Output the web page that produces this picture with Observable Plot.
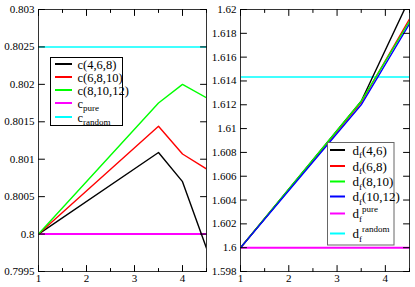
<!DOCTYPE html>
<html>
<head>
<meta charset="utf-8">
<script src="https://cdn.jsdelivr.net/npm/d3@7"></script>
<script src="https://cdn.jsdelivr.net/npm/@observablehq/plot@0.6"></script>
<style>
  html, body { margin: 0; padding: 0; background: white; }
  #wrap { position: relative; width: 415px; height: 287px; overflow: hidden; background: white; font-family: "Liberation Serif", serif; }
  #wrap > svg, #wrap > figure { position: absolute; top: 0; margin: 0; }
  #wrap svg, #wrap svg text { font-family: "Liberation Serif", serif !important; }
</style>
</head>
<body>
<div id="wrap"></div>
<script>
// ---------- data: left panel ----------
const xLeft = [1, 3.5, 4, 4.5];
const c468 = [0.8, 0.80109, 0.80070, 0.79981];
const c6810 = [0.8, 0.80144, 0.80107, 0.80087];
const c81012 = [0.8, 0.80175, 0.80200, 0.80182];
const cPure = 0.8;
const cRandom = 0.8025;
const leftYTicks = [0.7995, 0.8, 0.8005, 0.801, 0.8015, 0.802, 0.8025, 0.803];
const leftYLabels = ["0.7995", "0.8", "0.8005", "0.801", "0.8015", "0.802", "0.8025", "0.803"];

// ---------- data: right panel ----------
const xRight = [1, 3.5, 4.5];
const df46 = [1.6, 1.6123, 1.6209];
const df68 = [1.6, 1.6122, 1.6192];
const df810 = [1.6, 1.6123, 1.6190];
const df1012 = [1.6, 1.6120, 1.6188];
const dfPure = 1.6;
const dfRandom = 1.61434;
const rightYTicks = [1.598, 1.6, 1.602, 1.604, 1.606, 1.608, 1.61, 1.612, 1.614, 1.616, 1.618, 1.62];
const rightYLabels = ["1.598", "1.6", "1.602", "1.604", "1.606", "1.608", "1.61", "1.612", "1.614", "1.616", "1.618", "1.62"];

// ---------- shared ----------
const xMajor = [1, 2, 3, 4];
const xMajorLabels = ["1", "2", "3", "4"];
const xMinor = [1.5, 2.5, 3.5, 4.5];

const leftSeries = [
  {label: "c(4,6,8)", values: c468, color: "#000000"},
  {label: "c(6,8,10)", values: c6810, color: "#ff0000"},
  {label: "c(8,10,12)", values: c81012, color: "#00ff00"}
];
const leftRefs = [
  {label: "pure", value: cPure, color: "#ff00ff"},
  {label: "random", value: cRandom, color: "#00ffff"}
];
const rightSeries = [
  {label: "(4,6)", values: df46, color: "#000000"},
  {label: "(6,8)", values: df68, color: "#ff0000"},
  {label: "(8,10)", values: df810, color: "#00ff00"},
  {label: "(10,12)", values: df1012, color: "#0000ff"}
];
const rightRefs = [
  {label: "pure", value: dfPure, color: "#ff00ff"},
  {label: "random", value: dfRandom, color: "#00ffff"}
];

const FONT = '"Liberation Serif", serif';
const tickShape = {draw(context, l) { context.moveTo(0, 0); context.lineTo(0, -l); }};

function ticksFor(yTicks) {
  const v = (data, o) => Plot.vector(data, {shape: tickShape, anchor: "start", stroke: "black", strokeWidth: 1, ...o});
  return [
    v(xMajor, {x: d => d, frameAnchor: "bottom", rotate: 0, length: 6}),
    v(xMinor, {x: d => d, frameAnchor: "bottom", rotate: 0, length: 3}),
    v(xMajor, {x: d => d, frameAnchor: "top", rotate: 180, length: 6}),
    v(xMinor, {x: d => d, frameAnchor: "top", rotate: 180, length: 3}),
    v(yTicks, {y: d => d, frameAnchor: "left", rotate: 90, length: 6}),
    v(yTicks, {y: d => d, frameAnchor: "right", rotate: -90, length: 6})
  ];
}

function panel(xs, series, refs, yDomain, yTicks, yLabels, opts) {
  const lineData = series.flatMap(s => s.values.map((v, i) => ({x: xs[i], y: v, s: s.label, color: s.color})));
  return Plot.plot({
    width: opts.width, height: 287,
    marginLeft: opts.marginLeft, marginRight: opts.marginRight, marginTop: 9, marginBottom: 16,
    x: {domain: [1, 4.5]},
    y: {domain: yDomain},
    style: {fontFamily: FONT, fontSize: "11px", background: "white", color: "black", overflow: "visible"},
    marks: [
      ...refs.map(r => Plot.ruleY([r.value], {stroke: r.color, strokeWidth: r.label === "pure" ? 2 : 1.5})),
      ...series.map(s => Plot.line(lineData.filter(d => d.s === s.label), {x: "x", y: "y", stroke: s.color, strokeWidth: 1.4, clip: true})),
      Plot.frame({stroke: "#333", strokeWidth: 1}),
      ...ticksFor(yTicks),
      Plot.axisX({ticks: xMajor, tickSize: 0, tickPadding: 3, tickFormat: d => xMajorLabels[xMajor.indexOf(d)], label: null, fill: "black", fontFamily: FONT}),
      Plot.axisY({ticks: yTicks, tickSize: 0, tickPadding: 4, tickFormat: d => yLabels[yTicks.indexOf(d)], label: null, fill: "black", fontFamily: FONT})
    ]
  });
}

const wrap = document.getElementById("wrap");
const left = panel(xLeft, leftSeries, leftRefs, [0.7995, 0.803], leftYTicks, leftYLabels, {width: 208, marginLeft: 38, marginRight: 2});
left.style.left = "0px";
wrap.appendChild(left);
const right = panel(xRight, rightSeries, rightRefs, [1.598, 1.62], rightYTicks, rightYLabels, {width: 207, marginLeft: 32, marginRight: 6});
right.style.left = "208px";
wrap.appendChild(right);

// ---------- legends ----------
const ov = d3.select(wrap).append("svg")
  .attr("width", 415).attr("height", 287)
  .style("position", "absolute").style("left", "0px").style("top", "0px")
  .style("pointer-events", "none")
  .style("font-family", FONT);

// left legend
const L = ov.append("g");
L.append("rect").attr("x", 50.5).attr("y", 57.5).attr("width", 72).attr("height", 68)
  .attr("fill", "white").attr("stroke", "black").attr("stroke-width", 1);
const leftItems = [
  ...leftSeries.map(s => ({main: s.label, sub: null, color: s.color})),
  ...leftRefs.map(r => ({main: "c", sub: r.label, color: r.color}))
];
const leftRowY = [64, 77, 90, 103, 117];
leftItems.forEach((it, i) => {
  const y = leftRowY[i];
  L.append("line").attr("x1", 55).attr("x2", 72).attr("y1", y).attr("y2", y)
    .attr("stroke", it.color).attr("stroke-width", 2);
  const t = L.append("text").attr("x", 77.5).attr("y", y + 4.5).style("font-size", "12.5px").attr("fill", "black");
  t.append("tspan").text(it.main);
  if (it.sub) t.append("tspan").style("font-size", "9px").attr("dy", 3).text(it.sub);
});

// right legend
const R = ov.append("g");
R.append("rect").attr("x", 327.5).attr("y", 142.5).attr("width", 66.5).attr("height", 102.5)
  .attr("fill", "white").attr("stroke", "#666").attr("stroke-width", 1);
const rightItems = [
  ...rightSeries.map(s => ({tail: s.label, sup: null, color: s.color})),
  ...rightRefs.map(r => ({tail: null, sup: r.label, color: r.color}))
];
const rightRowY = [150, 166, 181.5, 196.5, 213.5, 233.5];
rightItems.forEach((it, i) => {
  const y = rightRowY[i];
  R.append("line").attr("x1", 330).attr("x2", 345).attr("y1", y).attr("y2", y)
    .attr("stroke", it.color).attr("stroke-width", 2);
  const t = R.append("text").attr("x", 352.5).attr("y", y + 4.5).style("font-size", "13px").attr("fill", "black");
  t.append("tspan").text("d");
  t.append("tspan").style("font-size", "9px").attr("dy", 3.5).text("f");
  if (it.tail) t.append("tspan").style("font-size", "13px").attr("dy", -3.5).text(it.tail);
  if (it.sup) t.append("tspan").style("font-size", "9px").attr("dy", -10).text(it.sup);
});
</script>
</body>
</html>
